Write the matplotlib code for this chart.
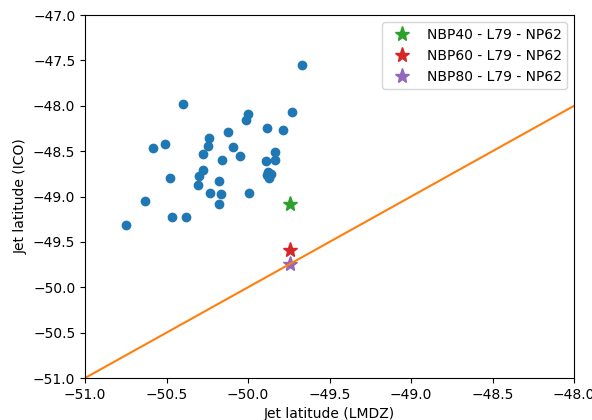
import matplotlib
matplotlib.use("Agg")
import matplotlib.pyplot as plt
import numpy as np

lmdz = [-49.667, -50.401, -50.002, -50.012, -49.728, -50.125, -49.882, -49.783,
        -50.585, -50.509, -50.239, -50.247, -50.094, -50.279, -50.160, -50.047,
        -49.834, -49.890, -49.834, -50.274, -50.301, -50.481, -50.307, -50.178,
        -49.885, -49.861, -49.871, -49.878, -50.233, -50.164, -49.996, -50.178,
        -50.630, -50.468, -50.383, -50.747]
ico = [-47.554, -47.977, -48.091, -48.153, -48.072, -48.289, -48.242, -48.271,
       -48.466, -48.425, -48.359, -48.444, -48.455, -48.532, -48.594, -48.554,
       -48.506, -48.612, -48.598, -48.708, -48.774, -48.800, -48.870, -48.833,
       -48.763, -48.752, -48.800, -48.730, -48.965, -48.976, -48.965, -49.083,
       -49.050, -49.222, -49.222, -49.311]

star_labels = ["NBP40 - L79 - NP62", "NBP60 - L79 - NP62", "NBP80 - L79 - NP62"]
star_x = [-49.742, -49.742, -49.742]
star_y = [-49.083, -49.590, -49.744]
star_colors = ["tab:green", "tab:red", "tab:purple"]

line_x = [-51, -48]

fig = plt.figure(figsize=(5.92, 4.2), dpi=100)
ax = fig.add_axes([0.1436, 0.1, 0.826, 0.864])
ax.scatter(lmdz, ico, color="tab:blue")
for sx, sy, c, lab in zip(star_x, star_y, star_colors, star_labels):
    ax.plot(sx, sy, "*", color=c, markersize=11, label=lab)
ax.plot(line_x, line_x, color="tab:orange")
ax.set_xlim(-51, -48)
ax.set_ylim(-51, -47)
ax.set_xlabel("Jet latitude (LMDZ)")
ax.set_ylabel("Jet latitude (ICO)")
ax.legend(loc="upper right")
fig.savefig("out.png", dpi=100)
